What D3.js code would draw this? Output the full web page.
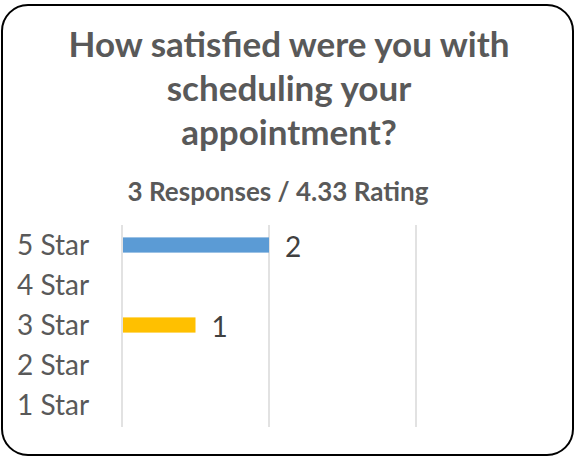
<!DOCTYPE html>
<html>
<head>
<meta charset="utf-8">
<script src="https://cdn.jsdelivr.net/npm/d3@7"></script>
<style>
  body { margin: 0; background: #fff; }
  text { font-family: Lato, "Open Sans", sans-serif; }
</style>
</head>
<body>
<div id="chart"></div>
<script>
"use strict";

// chart data
var categories = ["5 Star", "4 Star", "3 Star", "2 Star", "1 Star"];
var counts = [2, 0, 1, 0, 0];
var barColors = ["#5B9BD5", "#5B9BD5", "#FFC000", "#5B9BD5", "#5B9BD5"];
var gridTicks = [0, 2, 4];
var titleLines = ["How satisfied were you with", "scheduling your", "appointment?"];
var subtitle = "3 Responses / 4.33 Rating";

var width = 575,
  height = 457;

var svg = d3
  .select("#chart")
  .append("svg")
  .attr("width", width)
  .attr("height", height);

// rounded frame
svg
  .append("rect")
  .attr("x", 2)
  .attr("y", 5)
  .attr("width", 571)
  .attr("height", 450)
  .attr("rx", 26)
  .attr("fill", "#fff")
  .attr("stroke", "#000")
  .attr("stroke-width", 2);

// title
svg
  .selectAll(".title")
  .data(titleLines)
  .enter()
  .append("text")
  .attr("class", "title")
  .attr("x", 289)
  .attr("y", function(d, i) {
    return 57 + i * 44;
  })
  .attr("text-anchor", "middle")
  .attr("font-size", 35)
  .attr("font-weight", "bold")
  .attr("fill", "#595959")
  .text(function(d) {
    return d;
  });

svg
  .append("text")
  .attr("x", 278)
  .attr("y", 201)
  .attr("text-anchor", "middle")
  .attr("font-size", 26)
  .attr("font-weight", "bold")
  .attr("fill", "#595959")
  .text(subtitle);

// scales
var x = d3
  .scaleLinear()
  .domain([0, 4])
  .range([122, 416]);

var y = d3
  .scaleBand()
  .domain(categories)
  .range([225, 425])
  .paddingInner(0.62)
  .paddingOuter(0.31);

// gridlines
svg
  .selectAll(".grid")
  .data(gridTicks)
  .enter()
  .append("line")
  .attr("class", "grid")
  .attr("x1", function(d) {
    return x(d);
  })
  .attr("x2", function(d) {
    return x(d);
  })
  .attr("y1", 225)
  .attr("y2", 427)
  .attr("stroke", "#d9d9d9")
  .attr("stroke-width", 1.5);

// category labels
var yAxis = svg
  .append("g")
  .attr("transform", "translate(110,0)")
  .call(d3.axisLeft(y).tickSize(0).tickPadding(0));
yAxis.select(".domain").remove();
yAxis
  .selectAll("text")
  .attr("font-size", 28)
  .attr("fill", "#595959")
  .attr("text-anchor", "start")
  .attr("x", -93)
  .attr("dy", "0.36em");
yAxis.selectAll("text").style("font-family", "Lato, 'Open Sans', sans-serif");

// bars
var data = categories.map(function(c, i) {
  return { cat: c, n: counts[i], color: barColors[i] };
});

svg
  .selectAll(".bar")
  .data(data.filter(function(d) { return d.n > 0; }))
  .enter()
  .append("rect")
  .attr("class", "bar")
  .attr("x", x(0) + 1)
  .attr("y", function(d) {
    return y(d.cat);
  })
  .attr("width", function(d) {
    return x(d.n) - x(0) - 1;
  })
  .attr("height", y.bandwidth())
  .attr("fill", function(d) {
    return d.color;
  });

// value labels
svg
  .selectAll(".val")
  .data(data.filter(function(d) { return d.n > 0; }))
  .enter()
  .append("text")
  .attr("class", "val")
  .attr("x", function(d) {
    return x(d.n) + 16;
  })
  .attr("y", function(d) {
    return y(d.cat) + y.bandwidth() / 2;
  })
  .attr("dy", "0.42em")
  .attr("font-size", 28)
  .attr("fill", "#404040")
  .text(function(d) {
    return d.n;
  });
</script>
</body>
</html>
